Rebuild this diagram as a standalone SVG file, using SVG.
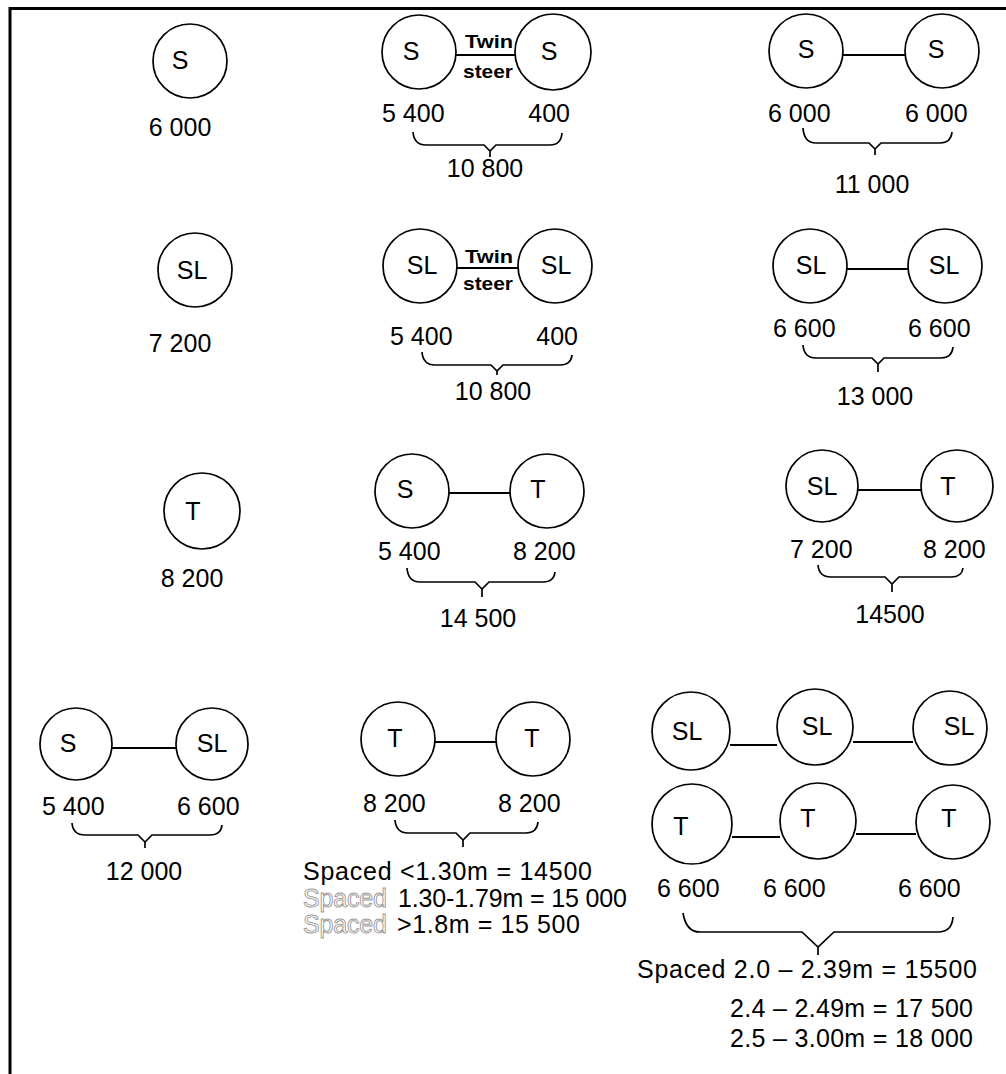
<svg xmlns="http://www.w3.org/2000/svg" width="1006" height="1074" viewBox="0 0 1006 1074">
<defs>
<style>
.c{fill:none;stroke:#000;stroke-width:1.7}
.l{font-family:"Liberation Sans",Arial,sans-serif;font-size:25px;fill:#000;text-anchor:middle}
.w{font-family:"Liberation Sans",Arial,sans-serif;font-size:25px;fill:#000}
.m{text-anchor:middle}
.e{text-anchor:end}
.ln{stroke:#000;stroke-width:2;fill:none}
.br{stroke:#000;stroke-width:1.7;fill:none}
.tw{font-family:"Liberation Sans",Arial,sans-serif;font-size:19px;font-weight:bold;fill:#000;text-anchor:start}
.g{fill:#fff;stroke:#999;stroke-width:0.9}
</style>
</defs>
<rect width="1006" height="1074" fill="#fff"/>
<g id="frame" fill="none" stroke="#000" stroke-width="3">
<line x1="10" y1="8.5" x2="1006" y2="8.5"/>
<line x1="10" y1="7" x2="10" y2="1074"/>
</g>

<!-- nodes -->
<g id="n1"><circle class="c" cx="190" cy="61" r="37"/><text class="l" x="180" y="69">S</text></g>
<g id="n2a"><circle class="c" cx="419" cy="52" r="37"/><text class="l" x="411" y="60">S</text></g>
<g id="n2b"><circle class="c" cx="553" cy="52" r="38"/><text class="l" x="549" y="60">S</text></g>
<g id="n3a"><circle class="c" cx="806" cy="51" r="37"/><text class="l" x="806" y="58">S</text></g>
<g id="n3b"><circle class="c" cx="942" cy="51" r="37"/><text class="l" x="936" y="58">S</text></g>

<g id="n4"><circle class="c" cx="195" cy="270" r="37"/><text class="l" x="192" y="279">SL</text></g>
<g id="n5a"><circle class="c" cx="420" cy="266" r="37"/><text class="l" x="422" y="274">SL</text></g>
<g id="n5b"><circle class="c" cx="555" cy="266" r="37"/><text class="l" x="556" y="274">SL</text></g>
<g id="n6a"><circle class="c" cx="810" cy="266" r="37"/><text class="l" x="811" y="274">SL</text></g>
<g id="n6b"><circle class="c" cx="945" cy="266" r="37"/><text class="l" x="944" y="274">SL</text></g>

<g id="n7"><circle class="c" cx="202" cy="511" r="38"/><text class="l" x="193" y="520">T</text></g>
<g id="n8a"><circle class="c" cx="412" cy="491" r="37"/><text class="l" x="405" y="498">S</text></g>
<g id="n8b"><circle class="c" cx="547" cy="491" r="37"/><text class="l" x="538" y="498">T</text></g>
<g id="n9a"><circle class="c" cx="822" cy="486" r="36"/><text class="l" x="822" y="495">SL</text></g>
<g id="n9b"><circle class="c" cx="957" cy="486" r="36"/><text class="l" x="948" y="495">T</text></g>

<g id="n10a"><circle class="c" cx="76" cy="744" r="36"/><text class="l" x="68" y="752">S</text></g>
<g id="n10b"><circle class="c" cx="212" cy="744" r="36"/><text class="l" x="212" y="752">SL</text></g>
<g id="n11a"><circle class="c" cx="398" cy="739" r="37"/><text class="l" x="395" y="747">T</text></g>
<g id="n11b"><circle class="c" cx="533" cy="739" r="37"/><text class="l" x="532" y="747">T</text></g>

<g id="n12a"><circle class="c" cx="691" cy="731" r="39"/><text class="l" x="687" y="740">SL</text></g>
<g id="n12b"><circle class="c" cx="815" cy="727" r="38"/><text class="l" x="817" y="735">SL</text></g>
<g id="n12c"><circle class="c" cx="950" cy="728" r="37"/><text class="l" x="959" y="735">SL</text></g>
<g id="n13a"><circle class="c" cx="692" cy="824" r="40"/><text class="l" x="681" y="835">T</text></g>
<g id="n13b"><circle class="c" cx="818" cy="821" r="38"/><text class="l" x="808" y="827">T</text></g>
<g id="n13c"><circle class="c" cx="953" cy="822" r="37"/><text class="l" x="949" y="827">T</text></g>

<!-- connectors -->
<g id="connectors">
<line class="ln" x1="456" y1="55" x2="515" y2="55"/>
<line class="ln" x1="843" y1="55" x2="905" y2="55"/>
<line class="ln" x1="457" y1="268" x2="518" y2="268"/>
<line class="ln" x1="847" y1="269" x2="908" y2="269"/>
<line class="ln" x1="449" y1="493" x2="510" y2="493"/>
<line class="ln" x1="858" y1="490" x2="921" y2="490"/>
<line class="ln" x1="112" y1="748" x2="176" y2="748"/>
<line class="ln" x1="435" y1="742" x2="496" y2="742"/>
<line class="ln" x1="730" y1="745" x2="777" y2="745"/>
<line class="ln" x1="853" y1="742" x2="913" y2="742"/>
<line class="ln" x1="732" y1="837" x2="780" y2="837"/>
<line class="ln" x1="856" y1="834" x2="916" y2="834"/>

<path class="br" d="M413 132 Q414 145 426 145 H484 L490 151 L496 145 H550 Q561 145 562 133 M490 151 V157"/>
<path class="br" d="M803 128 Q804 143 816 143 H869 L875 149 L881 143 H940 Q951 143 952 132 M875 149 V155"/>
<path class="br" d="M422 352 Q423 365 435 365 H491 L497 371 L503 365 H560 Q571 365 572 355 M497 371 V375"/>
<path class="br" d="M803 345 Q804 358 816 358 H872 L878 364 L884 358 H941 Q952 358 953 347 M878 364 V372"/>
<path class="br" d="M407 568 Q408 582 420 582 H475 L482 589 L489 582 H543 Q554 582 555 572 M482 589 V597"/>
<path class="br" d="M818 565 Q819 577 831 577 H885 L892 584 L899 577 H951 Q962 577 963 568 M892 584 V592"/>
<path class="br" d="M72 823 Q73 835 85 835 H138 L145 842 L152 835 H210 Q221 835 222 825 M145 842 V848"/>
<path class="br" d="M395 820 Q396 833 408 833 H456 L463 840 L470 833 H526 Q537 833 538 822 M463 840 V847"/>
<path class="br" d="M683 913 Q686 932 700 932 H802 L818 947 L834 932 H938 Q952 932 953 917 M818 947 V955"/>
</g>

<!-- edge labels -->
<g id="twin-steer">
<text class="tw" x="465" y="48" textLength="48" lengthAdjust="spacingAndGlyphs">Twin</text>
<text class="tw" x="463" y="78" textLength="50" lengthAdjust="spacingAndGlyphs">steer</text>
<text class="tw" x="465" y="263" textLength="48" lengthAdjust="spacingAndGlyphs">Twin</text>
<text class="tw" x="463" y="290" textLength="50" lengthAdjust="spacingAndGlyphs">steer</text>
</g>

<!-- weights -->
<g id="weights" class="w">
<text class="w m" x="180" y="136">6 000</text>

<text class="w" x="382" y="122">5 400</text>
<text class="w e" x="570" y="122">400</text>
<text class="w m" x="485" y="177">10 800</text>

<text class="w" x="768" y="122">6 000</text>
<text class="w" x="905" y="122">6 000</text>
<text class="w m" x="872" y="193">11 000</text>

<text class="w m" x="180" y="352">7 200</text>

<text class="w" x="390" y="345">5 400</text>
<text class="w e" x="578" y="345">400</text>
<text class="w m" x="493" y="400">10 800</text>

<text class="w" x="773" y="337">6 600</text>
<text class="w" x="908" y="337">6 600</text>
<text class="w m" x="875" y="405">13 000</text>

<text class="w m" x="192" y="587">8 200</text>

<text class="w" x="378" y="560">5 400</text>
<text class="w" x="513" y="560">8 200</text>
<text class="w m" x="478" y="627">14 500</text>

<text class="w" x="790" y="558">7 200</text>
<text class="w" x="923" y="558">8 200</text>
<text class="w m" x="890" y="623">14500</text>

<text class="w" x="42" y="815">5 400</text>
<text class="w" x="177" y="815">6 600</text>
<text class="w m" x="144" y="880">12 000</text>

<text class="w" x="363" y="812">8 200</text>
<text class="w" x="498" y="812">8 200</text>
<text class="w" x="303" y="880" textLength="289" lengthAdjust="spacing">Spaced &lt;1.30m = 14500</text>
<text class="w g" x="303" y="907" textLength="84" lengthAdjust="spacing">Spaced</text>
<text class="w" x="398" y="907" textLength="229" lengthAdjust="spacing">1.30-1.79m = 15 000</text>
<text class="w g" x="303" y="933" textLength="84" lengthAdjust="spacing">Spaced</text>
<text class="w" x="397" y="933" textLength="183" lengthAdjust="spacing">&gt;1.8m = 15 500</text>

<text class="w" x="657" y="897">6 600</text>
<text class="w" x="763" y="897">6 600</text>
<text class="w" x="898" y="897">6 600</text>
<text class="w" x="637" y="978" textLength="340" lengthAdjust="spacing">Spaced 2.0 – 2.39m = 15500</text>
<text class="w" x="730" y="1017" textLength="243" lengthAdjust="spacing">2.4 – 2.49m = 17 500</text>
<text class="w" x="730" y="1047" textLength="243" lengthAdjust="spacing">2.5 – 3.00m = 18 000</text>
</g>
</svg>
